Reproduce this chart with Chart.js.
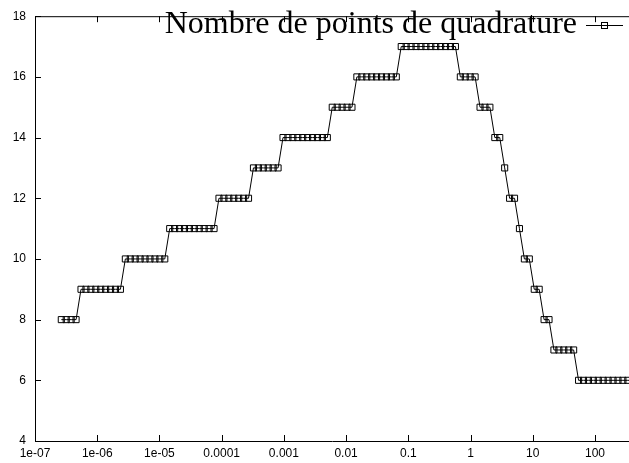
<!DOCTYPE html>
<html>
<head>
<meta charset="utf-8">
<script src="https://cdn.jsdelivr.net/npm/chart.js@4/dist/chart.umd.min.js"></script>
<style>
  html, body { margin: 0; padding: 0; background: #fff; }
  canvas { display: block; }
</style>
</head>
<body>
<canvas id="chart" width="629" height="463"></canvas>
<script>
// Series data
const seriesLabel = 'Nombre de points de quadrature';

const xValues = [
  2.647e-7, 3.176e-7, 3.811e-7, 4.573e-7, 5.488e-7, 6.586e-7, 7.903e-7, 9.484e-7,
  1.138e-6, 1.366e-6, 1.639e-6, 1.967e-6, 2.360e-6, 2.832e-6, 3.398e-6, 4.078e-6, 4.894e-6, 5.873e-6, 7.048e-6, 8.458e-6,
  1.015e-5, 1.218e-5, 1.462e-5, 1.754e-5, 2.105e-5, 2.526e-5, 3.031e-5, 3.637e-5, 4.364e-5, 5.237e-5, 6.284e-5, 7.541e-5, 9.049e-5,
  1.086e-4, 1.303e-4, 1.564e-4, 1.877e-4, 2.252e-4, 2.702e-4, 3.242e-4, 3.890e-4, 4.668e-4, 5.602e-4, 6.722e-4, 8.066e-4, 9.679e-4,
  1.161e-3, 1.393e-3, 1.672e-3, 2.006e-3, 2.407e-3, 2.888e-3, 3.466e-3, 4.159e-3, 4.991e-3, 5.989e-3, 7.187e-3, 8.624e-3,
  1.035e-2, 1.242e-2, 1.490e-2, 1.788e-2, 2.146e-2, 2.575e-2, 3.090e-2, 3.708e-2, 4.450e-2, 5.340e-2, 6.408e-2, 7.690e-2, 9.228e-2,
  1.107e-1, 1.328e-1, 1.594e-1, 1.913e-1, 2.296e-1, 2.755e-1, 3.306e-1, 3.967e-1, 4.760e-1, 5.712e-1, 6.854e-1, 8.225e-1, 9.870e-1,
  1.184, 1.421, 1.705, 2.046, 2.455, 2.946, 3.535, 4.242, 5.090, 6.108, 7.330, 8.796,
  10.56, 12.67, 15.20, 18.24, 21.89, 26.27, 31.52, 37.82, 45.38, 54.46, 65.35, 78.42, 94.10,
  112.9, 135.5, 162.6, 195.1, 234.1, 280.9, 337.1, 404.5
];

const yValues = [
  8, 8, 8, 8,
  9, 9, 9, 9, 9, 9, 9, 9, 9,
  10, 10, 10, 10, 10, 10, 10, 10, 10,
  11, 11, 11, 11, 11, 11, 11, 11, 11, 11,
  12, 12, 12, 12, 12, 12, 12,
  13, 13, 13, 13, 13, 13,
  14, 14, 14, 14, 14, 14, 14, 14, 14, 14,
  15, 15, 15, 15, 15,
  16, 16, 16, 16, 16, 16, 16, 16, 16,
  17, 17, 17, 17, 17, 17, 17, 17, 17, 17, 17, 17,
  16, 16, 16, 16,
  15, 15, 15,
  14, 14,
  13,
  12, 12,
  11,
  10, 10,
  9, 9,
  8, 8,
  7, 7, 7, 7, 7,
  6, 6, 6, 6, 6, 6, 6, 6, 6, 6, 6, 6
];

// Axis ticks
const xTickValues = [1e-7, 1e-6, 1e-5, 1e-4, 1e-3, 1e-2, 1e-1, 1, 10, 100];
const xTickLabels = ['1e-07', '1e-06', '1e-05', '0.0001', '0.001', '0.01', '0.1', '1', '10', '100'];
const yTickLabels = ['4', '6', '8', '10', '12', '14', '16', '18'];

const points = xValues.map((x, i) => ({ x: x, y: yValues[i] }));

// gnuplot-like frame: top border, inward ticks, key in the top right corner
const gnuplotFrame = {
  id: 'gnuplotFrame',
  afterDraw(chart) {
    const { ctx, chartArea: a, scales: { x, y } } = chart;
    const tick = 6;
    ctx.save();
    ctx.strokeStyle = '#000';
    ctx.lineWidth = 1;
    ctx.beginPath();
    ctx.moveTo(a.left, a.top + 0.5);
    ctx.lineTo(a.right, a.top + 0.5);
    x.ticks.forEach(t => {
      const px = Math.round(x.getPixelForValue(t.value)) + 0.5;
      ctx.moveTo(px, a.bottom);
      ctx.lineTo(px, a.bottom - tick);
      ctx.moveTo(px, a.top);
      ctx.lineTo(px, a.top + tick);
    });
    y.ticks.forEach(t => {
      const py = Math.round(y.getPixelForValue(t.value)) + 0.5;
      ctx.moveTo(a.left, py);
      ctx.lineTo(a.left + tick, py);
    });
    ctx.stroke();

    // key
    const ds = chart.data.datasets[0];
    ctx.font = '32px "Liberation Serif", serif';
    ctx.fillStyle = '#000';
    ctx.textAlign = 'right';
    ctx.textBaseline = 'alphabetic';
    ctx.fillText(ds.label, 577, 33);
    ctx.beginPath();
    ctx.moveTo(586, 25.5);
    ctx.lineTo(623, 25.5);
    ctx.stroke();
    ctx.strokeRect(601.5, 22.5, 6, 6);
    ctx.restore();
  }
};

new Chart(document.getElementById('chart'), {
  type: 'line',
  data: {
    datasets: [{
      label: seriesLabel,
      data: points,
      borderColor: '#000',
      borderWidth: 1,
      tension: 0,
      pointStyle: 'rect',
      pointRadius: 4.3,
      pointBorderWidth: 1,
      pointBorderColor: '#000',
      pointBackgroundColor: 'rgba(0,0,0,0)',
      fill: false
    }]
  },
  options: {
    responsive: false,
    devicePixelRatio: 1,
    animation: false,
    layout: { autoPadding: false, padding: { top: 13, right: 0, left: 0, bottom: 0 } },
    plugins: {
      legend: { display: false },
      tooltip: { enabled: false }
    },
    scales: {
      x: {
        type: 'logarithmic',
        min: 1e-7,
        max: 352,
        afterBuildTicks: scale => {
          scale.ticks = xTickValues.map(v => ({ value: v }));
        },
        afterFit: scale => {
          scale.height = 22;
          scale.paddingLeft = 0;
          scale.paddingRight = 0;
        },
        grid: { drawOnChartArea: false, drawTicks: false },
        border: { display: true, color: '#000', width: 1 },
        ticks: {
          autoSkip: false,
          maxRotation: 0,
          padding: 5,
          color: '#000',
          font: { family: '"Liberation Sans", Arial, sans-serif', size: 12 },
          callback: (value, index) => xTickLabels[index]
        }
      },
      y: {
        type: 'linear',
        min: 4,
        max: 18,
        afterFit: scale => { scale.width = 35; },
        grid: { drawOnChartArea: false, drawTicks: false },
        border: { display: true, color: '#000', width: 1 },
        ticks: {
          stepSize: 2,
          padding: 9,
          color: '#000',
          font: { family: '"Liberation Sans", Arial, sans-serif', size: 12 },
          callback: (value, index) => yTickLabels[index]
        }
      }
    }
  },
  plugins: [gnuplotFrame]
});
</script>
</body>
</html>
